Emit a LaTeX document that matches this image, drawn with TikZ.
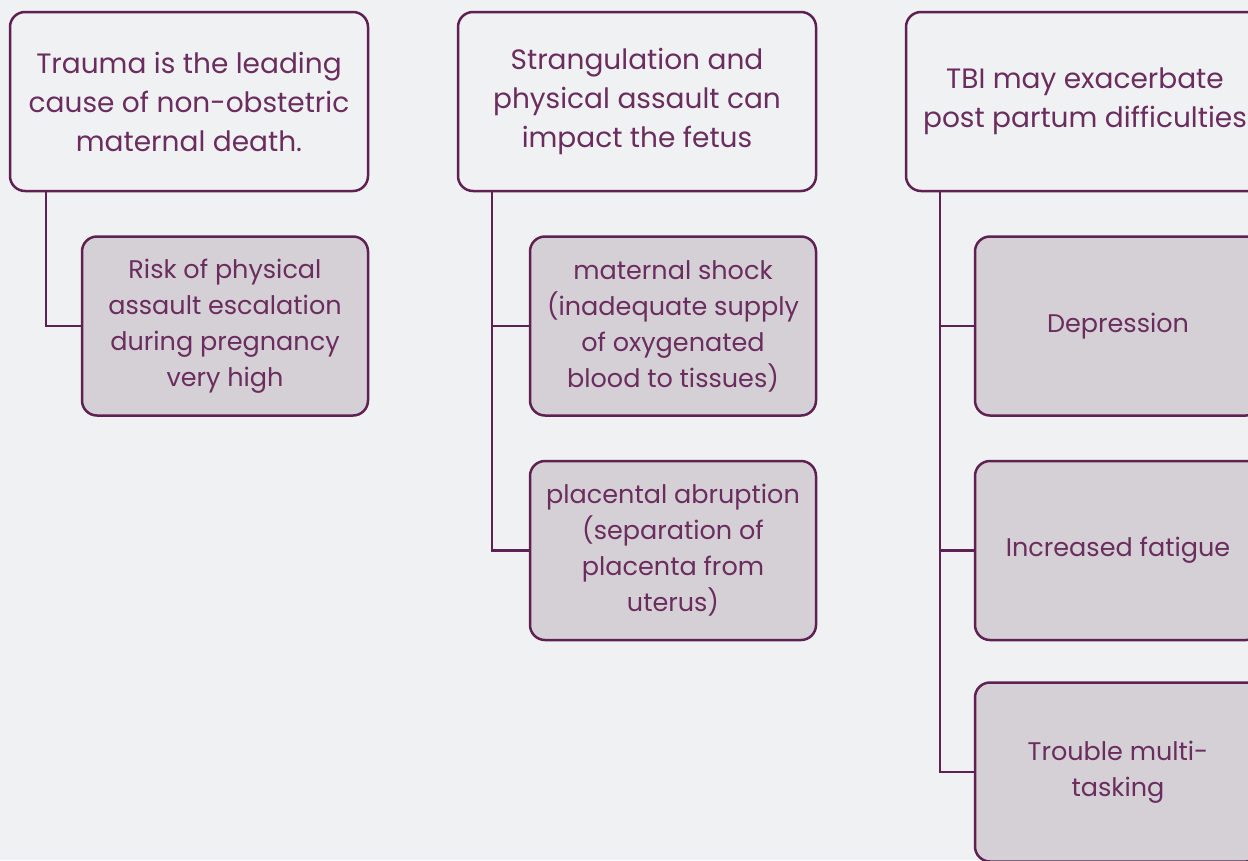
\documentclass[tikz,border=0pt]{standalone}
\usepackage{fontspec}
\setmainfont{Poppins}
\usetikzlibrary{calc}
\definecolor{bg}{HTML}{F0F1F3}
\definecolor{plum}{HTML}{5E2152}
\definecolor{plumtext}{HTML}{6A2D5E}
\definecolor{childfill}{HTML}{D5D0D6}
\tikzset{
  box/.style={draw=plum, line width=2.5pt, rounded corners=15pt, minimum width=358pt, minimum height=179pt,
    inner sep=0pt, align=center, text=plumtext},
  topbox/.style={box, fill=bg, font=\fontsize{28}{39}\selectfont},
  childbox/.style={box, fill=childfill, minimum width=286pt, font=\fontsize{25.5}{36}\selectfont},
  link/.style={draw=plum, line width=2.5pt}
}
\begin{document}
\begin{tikzpicture}[x=1pt,y=-1pt]
\path[use as bounding box] (0,0) rectangle (1248,860);
\clip (0,0) rectangle (1248,860);
\fill[bg] (0,0) rectangle (1248,860);
% column 1
\node[topbox] (t1) at (189,101.5) {Trauma is the leading\\cause of non-obstetric\\maternal death.};
\node[childbox] (c1) at (225,326) {Risk of physical\\assault escalation\\during pregnancy\\very high};
\coordinate (s1) at ($(t1.south west)+(37,0)$);
\draw[link] (s1) |- (c1.west);
% column 2
\node[topbox] (t2) at (637,101.5) {Strangulation and\\physical assault can\\impact the fetus};
\node[childbox] (c2a) at (673,326) {maternal shock\\(inadequate supply\\of oxygenated\\blood to tissues)};
\node[childbox] (c2b) at (673,550.5) {placental abruption\\(separation of\\placenta from\\uterus)};
\coordinate (s2) at ($(t2.south west)+(35,0)$);
\draw[link] (s2) |- (c2a.west);
\draw[link] (s2) |- (c2b.west);
% column 3
\node[topbox] (t3) at (1085,101.5) {TBI may exacerbate\\post partum difficulties};
\node[childbox] (c3a) at (1118,326) {Depression};
\node[childbox] (c3b) at (1118,550.5) {Increased fatigue};
\node[childbox] (c3c) at (1118,772) {Trouble multi-\\tasking};
\coordinate (s3) at ($(t3.south west)+(35,0)$);
\draw[link] (s3) |- (c3a.west);
\draw[link] (s3) |- (c3b.west);
\draw[link] (s3) |- (c3c.west);
\end{tikzpicture}
\end{document}
